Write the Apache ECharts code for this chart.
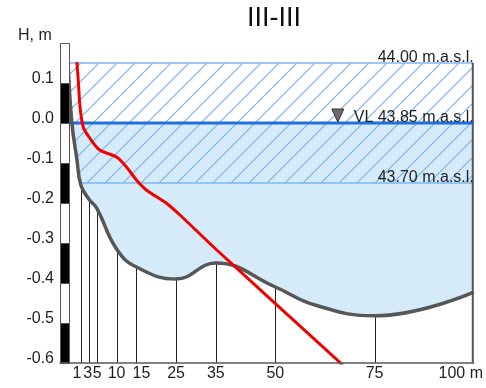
<!DOCTYPE html>
<html>
<head>
<meta charset="utf-8">
<script src="https://cdn.jsdelivr.net/npm/echarts@6/dist/echarts.min.js"></script>
<style>
  html, body { margin: 0; padding: 0; background: #fff; }
  #chart { width: 486px; height: 388px; }
</style>
</head>
<body>
<div id="chart"></div>
<script>
// Cross-section III-III: bed profile, water level band and staff gauge
const profileDist = [-2.2, -1.25, 0, 1, 3, 5, 10, 15, 25, 35, 50, 60, 75, 100];
const profileH    = [0.15, 0.0, -0.09, -0.155, -0.19, -0.213, -0.315, -0.36, -0.39, -0.35, -0.41, -0.455, -0.482, -0.423];

// Measuring stations (vertical lines down from the bed)
const stations = [1, 3, 5, 10, 15, 25, 35, 50, 75];

// Red curve
const redDist = [0, 0.4, 0.8, 1.6, 3.25, 5.75, 10, 12.5, 15, 17.5, 22.5, 26.5, 35.25, 67];
const redH    = [0.152, 0.1, 0.04, -0.01, -0.0375, -0.0675, -0.085, -0.11, -0.1425, -0.1675, -0.2, -0.235, -0.3175, -0.605];

// Water levels: top of band, water level (VL), bottom of band
const levelH    = [0.15, 0, -0.15];
const levelText = ['44.00 m.a.s.l.', 'VL 43.85 m.a.s.l.', '43.70 m.a.s.l.'];

// Staff gauge segments: [from, to, black?]
const staffSegments = [
  [-0.6, -0.5, 1], [-0.5, -0.4, 0], [-0.4, -0.3, 1], [-0.3, -0.2, 0],
  [-0.2, -0.1, 1], [-0.1, 0.0, 0], [0.0, 0.1, 1], [0.1, 0.2, 0]
];

// Axis ticks
const xTicks = [1, 3, 5, 10, 15, 25, 35, 50, 75, 100];
const xTickLabels = ['1', '3', '5', '10', '15', '25', '35', '50', '75', '100 m'];
const yMin = -0.6, yMax = 0.2, yStep = 0.1;
const xMin = -4.25, xMax = 100;

const FONT = 'Liberation Sans, Arial, sans-serif';
const TEXT = '#1e1e1e';

const profile = profileDist.map((d, i) => [d, profileH[i]]);
const red = redDist.map((d, i) => [d, redH[i]]);
const stationData = stations.map(d => [d, profileH[profileDist.indexOf(d)]]);

function hatchPattern() {
  const s = 18;
  const c = document.createElement('canvas');
  c.width = s; c.height = s;
  const g = c.getContext('2d');
  g.strokeStyle = '#76aeea';
  g.lineWidth = 1.1;
  g.beginPath();
  g.moveTo(-2, s + 2); g.lineTo(s + 2, -2);
  g.moveTo(-2, 2); g.lineTo(2, -2);
  g.moveTo(s - 2, s + 2); g.lineTo(s + 2, s - 2);
  g.stroke();
  return c;
}
const hatch = hatchPattern();

// horizontal nudges for crowded x labels (px)
const labelShift = { 1: -4, 3: -1, 5: 0.5, 10: 0, 15: 5, 100: -13 };
const rich = {};
xTicks.forEach(v => {
  const s = labelShift[v] || 0;
  rich['k' + v] = {
    fontSize: 16, color: TEXT, fontFamily: FONT,
    padding: s >= 0 ? [0, 0, 0, 2 * s] : [0, -2 * s, 0, 0]
  };
});

const bedSmooth = 0.45;

const chart = echarts.init(document.getElementById('chart'), null, { renderer: 'canvas' });

chart.setOption({
  animation: false,
  backgroundColor: '#fff',
  title: [
    {
      text: 'III-III',
      left: 247, top: 5, padding: 0,
      textStyle: { fontSize: 27, fontWeight: 'normal', color: '#111', fontFamily: FONT }
    },
    {
      text: 'H, m',
      left: 18, top: 28, padding: 0,
      textStyle: { fontSize: 16, fontWeight: 'normal', color: TEXT, fontFamily: FONT }
    }
  ],
  grid: { left: 60, right: 9, top: 43, bottom: 25, containLabel: false },
  xAxis: {
    type: 'value', min: xMin, max: xMax, z: 10,
    axisLine: { show: true, onZero: false, lineStyle: { color: '#5a5a5a', width: 1.5 } },
    axisTick: { show: false },
    splitLine: { show: false },
    axisLabel: {
      customValues: xTicks,
      margin: 3,
      fontSize: 16, color: TEXT, fontFamily: FONT,
      formatter: v => {
        const i = xTicks.indexOf(v);
        return i < 0 ? '' : '{k' + v + '|' + xTickLabels[i] + '}';
      },
      rich: rich
    }
  },
  yAxis: {
    type: 'value', min: yMin, max: yMax, interval: yStep,
    axisLine: { show: false },
    axisTick: { show: false },
    splitLine: { show: false },
    axisLabel: {
      margin: 6, fontSize: 16, color: TEXT, fontFamily: FONT,
      formatter: v => (v > 0.15 ? '' : '{y|' + v.toFixed(1) + '}'),
      rich: { y: { fontSize: 16, color: TEXT, fontFamily: FONT, padding: [0, 0, 9, 0] } }
    }
  },
  series: [
    // water body: fill above the bed
    {
      type: 'line', data: profile, z: 1, silent: true,
      smooth: bedSmooth, showSymbol: false, symbol: 'none',
      lineStyle: { width: 0, opacity: 0 },
      areaStyle: { origin: 'end', color: '#d5ebf9', opacity: 1 }
    },
    // dry part above the water level
    {
      type: 'custom', z: 2, silent: true,
      data: [[xMin, levelH[1], xMax, yMax]],
      encode: { x: [0, 2], y: [1, 3] },
      renderItem: (params, api) => {
        const a = api.coord([api.value(0), api.value(3)]);
        const b = api.coord([api.value(2), api.value(1)]);
        return { type: 'rect', shape: { x: a[0], y: a[1], width: b[0] - a[0], height: b[1] - a[1] - 1 }, style: { fill: '#fff' } };
      }
    },
    // hatched band between 44.00 and 43.70
    {
      type: 'custom', z: 3, silent: true,
      data: [[-1.75, levelH[0], xMax, levelH[2]]],
      encode: { x: [0, 2], y: [1, 3] },
      renderItem: (params, api) => {
        const a = api.coord([api.value(0), api.value(1)]);
        const b = api.coord([api.value(2), api.value(3)]);
        return {
          type: 'group',
          children: [
            { type: 'rect', shape: { x: a[0], y: a[1], width: b[0] - a[0], height: b[1] - a[1] },
              style: { fill: { image: hatch, repeat: 'repeat' } } },
            { type: 'line', shape: { x1: a[0], y1: a[1], x2: b[0], y2: a[1] }, style: { stroke: '#7db8f2', lineWidth: 1.5 } },
            { type: 'line', shape: { x1: a[0], y1: b[1], x2: b[0], y2: b[1] }, style: { stroke: '#7db8f2', lineWidth: 1.5 } }
          ]
        };
      }
    },
    // ground below the bed
    {
      type: 'line', data: profile, z: 4, silent: true,
      smooth: bedSmooth, showSymbol: false, symbol: 'none',
      lineStyle: { width: 0, opacity: 0 },
      areaStyle: { origin: 'start', color: '#fff', opacity: 1 }
    },
    // station verticals
    {
      type: 'custom', z: 5, silent: true,
      data: stationData,
      renderItem: (params, api) => {
        const a = api.coord([api.value(0), api.value(1)]);
        const b = api.coord([api.value(0), yMin]);
        return { type: 'line', shape: { x1: Math.round(a[0]) + 0.5, y1: a[1], x2: Math.round(a[0]) + 0.5, y2: b[1] }, style: { stroke: '#222', lineWidth: 1 } };
      }
    },
    // right border of the section
    {
      type: 'custom', z: 5, silent: true,
      data: [[xMax, levelH[0]]],
      renderItem: (params, api) => {
        const a = api.coord([api.value(0), api.value(1)]);
        const b = api.coord([api.value(0), yMin]);
        return { type: 'line', shape: { x1: a[0] - 1, y1: a[1], x2: b[0] - 1, y2: b[1] }, style: { stroke: '#555', lineWidth: 2 } };
      }
    },
    // water level line
    {
      type: 'line', z: 6, silent: true,
      data: [[-1.75, levelH[1]], [xMax, levelH[1]]],
      showSymbol: false, symbol: 'none',
      lineStyle: { color: '#1f6fdc', width: 3 }
    },
    // bed profile
    {
      type: 'line', data: profile, z: 7, silent: true,
      smooth: bedSmooth, showSymbol: false, symbol: 'none',
      lineStyle: { color: '#575757', width: 3.5 }
    },
    // staff gauge
    {
      type: 'custom', z: 8, silent: true,
      data: staffSegments,
      encode: { y: [0, 1] },
      renderItem: (params, api) => {
        const a = api.coord([xMin, api.value(1)]);
        const b = api.coord([-1.75, api.value(0)]);
        return {
          type: 'rect',
          shape: { x: Math.round(a[0]) + 0.5, y: Math.round(a[1]) + 0.5, width: Math.round(b[0] - a[0]) - 1, height: Math.round(b[1] - a[1]) },
          style: { fill: api.value(2) ? '#000' : '#fff', stroke: '#555', lineWidth: 1 }
        };
      }
    },
    // red curve
    {
      type: 'line', data: red, z: 9, silent: true,
      smooth: 0.3, showSymbol: false, symbol: 'none',
      lineStyle: { color: '#f20000', width: 3 }
    },
    // level captions and the water level marker
    {
      type: 'custom', z: 10, silent: true,
      data: levelH.map((h, i) => [xMax, h, i]),
      renderItem: (params, api) => {
        const i = api.value(2);
        const p = api.coord([api.value(0), api.value(1)]);
        const children = [{
          type: 'text',
          style: { text: levelText[i], x: p[0], y: p[1] + 3, align: 'right', verticalAlign: 'bottom',
                   fontSize: 16, fontFamily: FONT, fill: TEXT }
        }];
        if (i === 1) {
          const m = api.coord([65.75, api.value(1)]);
          children.push({
            type: 'polygon',
            shape: { points: [[m[0] - 6, m[1] - 14], [m[0] + 6, m[1] - 14], [m[0], m[1] - 1]] },
            style: { fill: '#6a6a6a', stroke: '#333', lineWidth: 1 }
          });
        }
        return { type: 'group', children };
      }
    }
  ]
});
</script>
</body>
</html>
